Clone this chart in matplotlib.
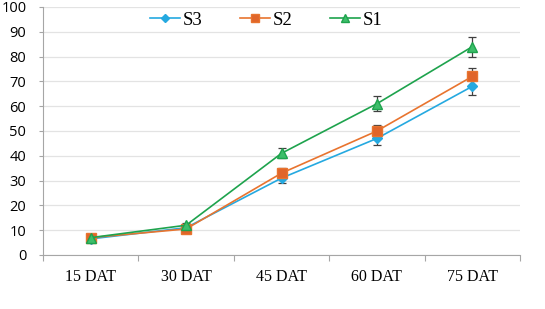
import matplotlib
matplotlib.use("Agg")
import matplotlib.pyplot as plt
from matplotlib.lines import Line2D
import numpy as np

categories = ["15 DAT", "30 DAT", "45 DAT", "60 DAT", "75 DAT"]
s3 = [6.5, 11.0, 31.0, 47.0, 68.0]
s2 = [7.0, 10.5, 33.0, 50.0, 72.0]
s1 = [7.0, 12.0, 41.0, 61.0, 84.0]
s3_err = [0.8, 1.0, 2.0, 2.5, 3.5]
s2_err = [0.8, 1.0, 2.0, 2.5, 3.5]
s1_err = [0.8, 1.0, 2.0, 3.0, 4.0]

fig = plt.figure(figsize=(5.45, 3.09), dpi=100)
ax = fig.add_axes([43/545, 1-255/309, 477/545, 248/309])

x = np.arange(len(categories))
series = [
    ("S3", s3, s3_err, "#25A9E0", "D", "#25A9E0", 5),
    ("S2", s2, s2_err, "#E8742F", "s", "#E0652A", 6.5),
    ("S1", s1, s1_err, "#1EA34D", "^", "#3DBE6A", 7),
]
handles = []
for name, vals, err, col, mk, fc, ms in series:
    ax.errorbar(x, vals, yerr=err, color=col, marker=mk, markersize=ms,
                markerfacecolor=fc, markeredgecolor=col, linewidth=1.2,
                ecolor="#404040", elinewidth=0.9, capsize=3, capthick=0.9,
                zorder=3)
    handles.append(Line2D([], [], color=col, marker=mk, markersize=ms * 0.8,
                          markerfacecolor=fc, markeredgecolor=col,
                          linewidth=1.2, label=name))

ax.set_xlim(-0.5, len(categories) - 0.5)
ax.set_ylim(0, 100)
ax.set_yticks(np.arange(0, 101, 10))
ax.set_xticks(x)
ax.set_xticklabels(categories, fontfamily="Liberation Serif", fontsize=11.5)
for lab in ax.get_yticklabels():
    lab.set_fontfamily("Open Sans")
    lab.set_fontsize(10.5)
ax.set_xticks(np.arange(-0.5, len(categories), 1), minor=True)
ax.tick_params(axis="x", which="major", length=0, pad=10)
ax.tick_params(axis="x", which="minor", length=4.5, color="#A6A6A6", width=0.8)
ax.tick_params(axis="y", length=3, color="#A6A6A6", width=0.8, pad=9)
ax.grid(axis="y", color="#E3E3E3", linewidth=0.9)
ax.set_axisbelow(True)
for sp in ["top", "right"]:
    ax.spines[sp].set_visible(False)
ax.spines["left"].set_color("#A6A6A6")
ax.spines["bottom"].set_color("#A6A6A6")

fig.legend(handles=handles, loc="center left",
           bbox_to_anchor=(150/545, 1-20/309), ncol=3, frameon=False,
           prop={"family": "Liberation Serif", "size": 13.5},
           handlelength=1.6, columnspacing=2.0, handletextpad=0.15,
           borderpad=0, borderaxespad=0)

fig.savefig("out.png", dpi=100)
